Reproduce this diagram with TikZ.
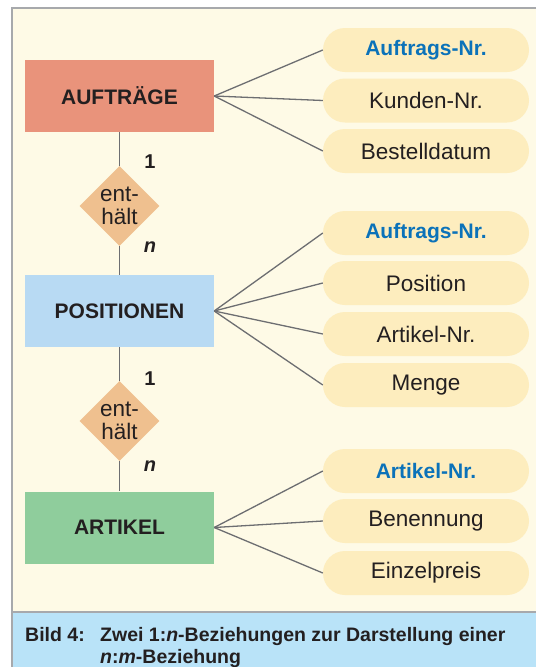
\documentclass[tikz,border=0pt]{standalone}
\usepackage{fontspec}
\setmainfont{Liberation Sans}
\usepackage{xcolor}
\usepackage{tikz}
\usetikzlibrary{shapes.geometric}

\definecolor{paper}{HTML}{FEFAE6}
\definecolor{frame}{HTML}{A7A9AC}
\definecolor{capblue}{HTML}{B9E3F8}
\definecolor{auftrag}{HTML}{E9937B}
\definecolor{position}{HTML}{B8DAF3}
\definecolor{artikel}{HTML}{8FCD9C}
\definecolor{relfill}{HTML}{EFC08F}
\definecolor{attrfill}{HTML}{FDEDBE}
\definecolor{keyblue}{HTML}{0B72B9}
\definecolor{ink}{HTML}{231F20}
\definecolor{wire}{HTML}{6D6E71}

\begin{document}
\begin{tikzpicture}[x=1pt,y=-1pt,
    entity/.style={rectangle,minimum width=189pt,minimum height=72pt,inner sep=0pt,
        text=ink,font=\bfseries\fontsize{21}{25}\selectfont},
    attr/.style={rectangle,rounded corners=22pt,fill=attrfill,minimum width=206pt,
        minimum height=44pt,inner sep=0pt,text=ink,font=\fontsize{22.5}{25}\selectfont},
    keyattr/.style={attr,text=keyblue,font=\bfseries\fontsize{21}{25}\selectfont},
    rel/.style={diamond,aspect=1,fill=relfill,minimum size=80pt,inner sep=0pt,
        align=center,text=ink,font=\fontsize{22.5}{23}\selectfont},
    card/.style={text=ink,font=\bfseries\fontsize{20}{24}\selectfont},
    caption/.style={anchor=base west,inner sep=0pt,text=ink,
        font=\bfseries\fontsize{19.5}{22}\selectfont},
    link/.style={wire,line width=1.3pt}]
    \useasboundingbox (0,0) rectangle (536,667);

    % Paper and caption band
    \fill[white] (0,0) rectangle (536,667);
    \fill[paper] (12,8) rectangle (536,612);
    \fill[capblue] (12,612) rectangle (536,667);
    \draw[frame,line width=2pt] (536,8) -- (12,8) -- (12,667);
    \draw[frame,line width=2pt] (12,612) -- (536,612);

    % Entities
    \node[entity,fill=auftrag] (auftraege) at (119.5,96) {AUFTRÄGE};
    \node[entity,fill=position] (positionen) at (119.5,311) {POSITIONEN};
    \node[entity,fill=artikel] (artikel) at (119.5,527.5) {ARTIKEL};

    % Relationships
    \node[rel] (rel1) at (119.5,206) {ent-\\hält};
    \node[rel] (rel2) at (119.5,421) {ent-\\hält};
    \draw[link] (auftraege) -- (rel1) -- (positionen);
    \draw[link] (positionen) -- (rel2) -- (artikel);

    % Cardinalities
    \node[card] (c1a) at (150,162) {1};
    \node[card] (c1b) at (150,247) {\itshape n};
    \node[card] (c2a) at (150,379) {1};
    \node[card] (c2b) at (150,466) {\itshape n};

    % Attributes of AUFTRÄGE
    \node[keyattr] (a1) at (426,50) {Auftrags-Nr.};
    \node[attr] (a2) at (426,100.5) {Kunden-Nr.};
    \node[attr] (a3) at (426,151) {Bestelldatum};
    \foreach \a in {a1,a2,a3}
        \draw[link] (auftraege.east) -- (\a.west);

    % Attributes of POSITIONEN
    \node[keyattr] (p1) at (426,233) {Auftrags-Nr.};
    \node[attr] (p2) at (426,283) {Position};
    \node[attr] (p3) at (426,334) {Artikel-Nr.};
    \node[attr] (p4) at (426,385) {Menge};
    \foreach \a in {p1,p2,p3,p4}
        \draw[link] (positionen.east) -- (\a.west);

    % Attributes of ARTIKEL
    \node[keyattr] (r1) at (426,471) {Artikel-Nr.};
    \node[attr] (r2) at (426,521) {Benennung};
    \node[attr] (r3) at (426,573) {Einzelpreis};
    \foreach \a in {r1,r2,r3}
        \draw[link] (artikel.east) -- (\a.west);

    % Caption
    \node[caption] (bild) at (25,641) {Bild 4:};
    \node[caption] (cap1) at (100,641) {Zwei 1:\textit{n}-Beziehungen zur Darstellung einer};
    \node[caption] (cap2) at (100,663) {\textit{n}:\textit{m}-Beziehung};
\end{tikzpicture}
\end{document}
